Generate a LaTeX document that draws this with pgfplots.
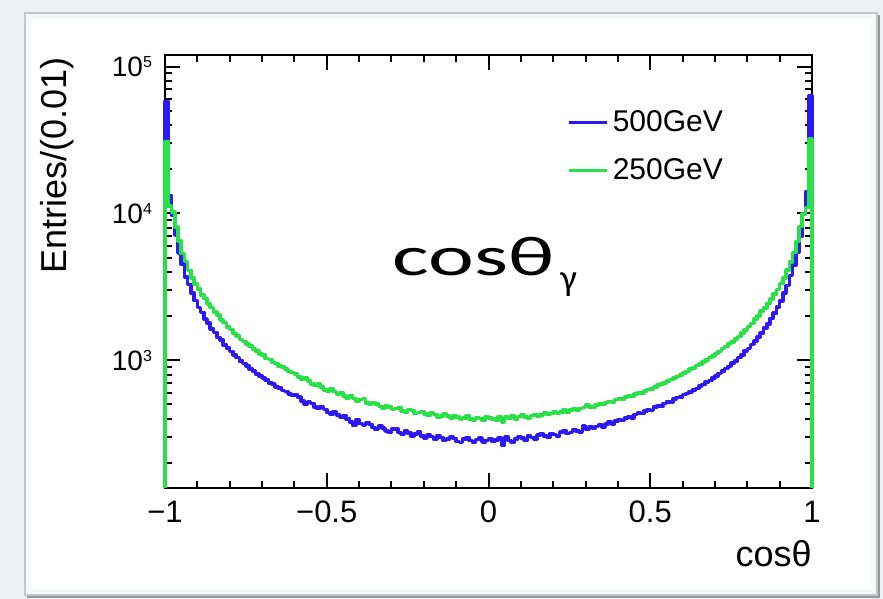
\documentclass[border=0pt]{standalone}
\usepackage{fontspec}
\setmainfont{Liberation Sans}
\newfontfamily\calibri{Carlito}
\usepackage{graphicx}
\usepackage{pgfplots}
\usepackage{pgfplotstable}
\pgfplotsset{compat=1.18}

\definecolor{rootblue}{RGB}{45,25,245}
\definecolor{rootgreen}{RGB}{40,225,70}
\definecolor{pagebg}{RGB}{238,241,241}
\definecolor{framegray}{RGB}{196,199,199}
\definecolor{shadowgray}{RGB}{150,152,152}
\definecolor{bandbg}{RGB}{244,248,248}

% photon polar-angle histograms, bins of 0.01 (left edges); b = 500 GeV, g = 250 GeV
\pgfplotstableread{
x b g
-1.00 135 135
-1.00 58000 31000
-0.99 13200 11200
-0.98 9800 10200
-0.97 7100 8050
-0.96 5380 6520
-0.95 4510 5350
-0.94 3700 4700
-0.93 3280 4080
-0.92 2880 3640
-0.91 2560 3300
-0.90 2290 3060
-0.89 2120 2790
-0.88 1910 2630
-0.87 1790 2420
-0.86 1640 2290
-0.85 1545 2130
-0.84 1430 2040
-0.83 1370 1880
-0.82 1270 1810
-0.81 1215 1690
-0.80 1150 1620
-0.79 1090 1525
-0.78 1045 1470
-0.77 985 1385
-0.76 950 1345
-0.75 918 1290
-0.74 872 1250
-0.73 846 1195
-0.72 808 1160
-0.71 780 1108
-0.70 758 1082
-0.69 735 1030
-0.68 702 1012
-0.67 690 968
-0.66 660 950
-0.65 648 912
-0.64 622 900
-0.63 612 872
-0.62 590 838
-0.61 582 826
-0.60 580 805
-0.59 560 770
-0.58 528 742
-0.57 506 760
-0.56 524 726
-0.55 508 690
-0.54 480 672
-0.53 470 690
-0.52 486 660
-0.51 462 628
-0.50 440 618
-0.49 432 640
-0.48 448 612
-0.47 426 590
-0.46 408 604
-0.45 420 570
-0.44 398 556
-0.43 380 574
-0.42 362 550
-0.41 394 528
-0.40 372 540
-0.39 360 548
-0.38 378 512
-0.37 366 504
-0.36 348 516
-0.35 338 506
-0.34 356 486
-0.33 346 474
-0.32 330 490
-0.31 326 482
-0.30 340 462
-0.29 342 470
-0.28 322 478
-0.27 316 452
-0.26 330 444
-0.25 320 462
-0.24 306 456
-0.23 314 434
-0.22 324 440
-0.21 304 448
-0.20 296 430
-0.19 310 420
-0.18 302 436
-0.17 292 428
-0.16 306 412
-0.15 298 418
-0.14 284 430
-0.13 290 416
-0.12 300 404
-0.11 294 420
-0.10 280 410
-0.09 276 396
-0.08 290 404
-0.07 298 416
-0.06 284 398
-0.05 278 392
-0.04 288 408
-0.03 296 402
-0.02 278 390
-0.01 284 410
0.00 292 404
0.01 280 398
0.02 286 392
0.03 296 412
0.04 266 378
0.05 300 410
0.06 284 404
0.07 278 418
0.08 290 400
0.09 302 414
0.10 296 424
0.11 286 410
0.12 304 406
0.13 298 422
0.14 292 428
0.15 310 414
0.16 316 426
0.17 304 440
0.18 300 428
0.19 318 434
0.20 312 446
0.21 306 438
0.22 326 444
0.23 332 458
0.24 318 446
0.25 322 460
0.26 338 468
0.27 330 456
0.28 326 470
0.29 360 476
0.30 340 496
0.31 352 482
0.32 346 478
0.33 354 494
0.34 362 504
0.35 352 500
0.36 368 516
0.37 380 524
0.38 370 520
0.39 386 540
0.40 396 548
0.41 390 544
0.42 404 562
0.43 414 570
0.44 406 566
0.45 428 588
0.46 436 600
0.47 434 598
0.48 450 618
0.49 462 634
0.50 456 640
0.51 480 656
0.52 490 676
0.53 488 690
0.54 508 698
0.55 522 722
0.56 520 740
0.57 546 758
0.58 558 776
0.59 562 794
0.60 584 820
0.61 596 840
0.62 608 870
0.63 630 888
0.64 644 920
0.65 668 940
0.66 684 978
0.67 710 1000
0.68 730 1044
0.69 760 1070
0.70 780 1112
0.71 815 1150
0.72 842 1202
0.73 880 1240
0.74 910 1302
0.75 955 1330
0.76 992 1398
0.77 1045 1455
0.78 1090 1535
0.79 1155 1605
0.80 1205 1700
0.81 1285 1785
0.82 1350 1905
0.83 1445 2010
0.84 1530 2160
0.85 1655 2270
0.86 1770 2440
0.87 1930 2605
0.88 2090 2820
0.89 2310 3030
0.90 2545 3330
0.91 2870 3650
0.92 3240 4110
0.93 3780 4660
0.94 4450 5420
0.95 5490 6440
0.96 7040 8140
0.97 9900 9960
0.98 14100 11000
0.99 63000 32000
1.00 135 135
}\hist

\newcommand\tenpow[1]{10\raisebox{4.6pt}{\fontsize{8}{8}\selectfont #1}}

\begin{document}
\begin{tikzpicture}
% page background and framed panel (units: axis box starts at the origin)
\fill[pagebg] (-82.5pt,-55.5pt) rectangle (359pt,244pt);
\path[use as bounding box] (-82.5pt,-55.5pt) rectangle (359pt,244pt);
\draw[shadowgray, line width=1.2pt] (-69pt,-54.3pt) -- (356.8pt,-54.3pt) -- (356.8pt,236.5pt);
\fill[bandbg, draw=framegray, line width=1pt] (-70pt,-53.5pt) rectangle (356pt,237.5pt);
\fill[white] (-67pt,-50.5pt) rectangle (353pt,234.5pt);

\begin{axis}[
  at={(0,0)}, anchor=south west,
  scale only axis, width=323.5pt, height=216.5pt,
  clip=false,
  xmin=-1, xmax=1,
  ymode=log, ymin=135, ymax=1.2e5,
  xtick={-1,-0.5,0,0.5,1},
  xticklabels={−1,−0.5,0,0.5,1},
  minor xtick={-0.9,-0.8,-0.7,-0.6,-0.4,-0.3,-0.2,-0.1,0.1,0.2,0.3,0.4,0.6,0.7,0.8,0.9},
  ytick={1000,10000,100000},
  yticklabels={\tenpow{3},\tenpow{4},\tenpow{5}},
  minor ytick={200,300,400,500,600,700,800,900,2000,3000,4000,5000,6000,7000,8000,9000,20000,30000,40000,50000,60000,70000,80000,90000},
  tick pos=both,
  tick align=inside,
  major tick length=7.5pt,
  minor tick length=3.5pt,
  every tick/.style={black, line width=1pt},
  axis line style={black, line width=1.2pt},
  xticklabel style={font=\fontsize{15.5}{18}\selectfont, yshift=-3pt},
  yticklabel style={font=\fontsize{14}{16}\selectfont, xshift=-3pt},
  xlabel={cosθ},
  ylabel={Entries/(0.01)},
  every axis x label/.style={at={(rel axis cs:1,0)}, anchor=base east, yshift=-39.5pt, inner sep=0pt, font=\fontsize{18}{20}\selectfont},
  every axis y label/.style={at={(rel axis cs:0,1)}, xshift=-62.5pt, yshift=-1pt, rotate=90, anchor=north east, inner sep=0pt, font=\fontsize{18}{20}\selectfont},
  legend style={at={(rel axis cs:0.621,0.882)}, anchor=north west, draw=none, fill=none,
    inner sep=0pt, font=\fontsize{15}{18}\selectfont, row sep=8pt},
  legend cell align=left,
  legend image code/.code={\draw[#1] (0pt,0pt) -- (19pt,0pt);},
]
\addplot[const plot, rootblue, line width=1.8pt, line join=round] table[x=x, y=b] {\hist};
\addlegendentry{500GeV}
\addplot[const plot, rootgreen, line width=1.8pt, line join=round] table[x=x, y=g] {\hist};
\addlegendentry{250GeV}

\node[anchor=base west, inner sep=0pt] at (rel axis cs:0.351,0.4919)
  {\calibri\scalebox{1.55}[1]{\fontsize{28}{30}\selectfont cosθ}\hspace{3pt}\raisebox{-7.6pt}{\fontsize{18.5}{20}\selectfont γ}};
\end{axis}
\end{tikzpicture}
\end{document}
